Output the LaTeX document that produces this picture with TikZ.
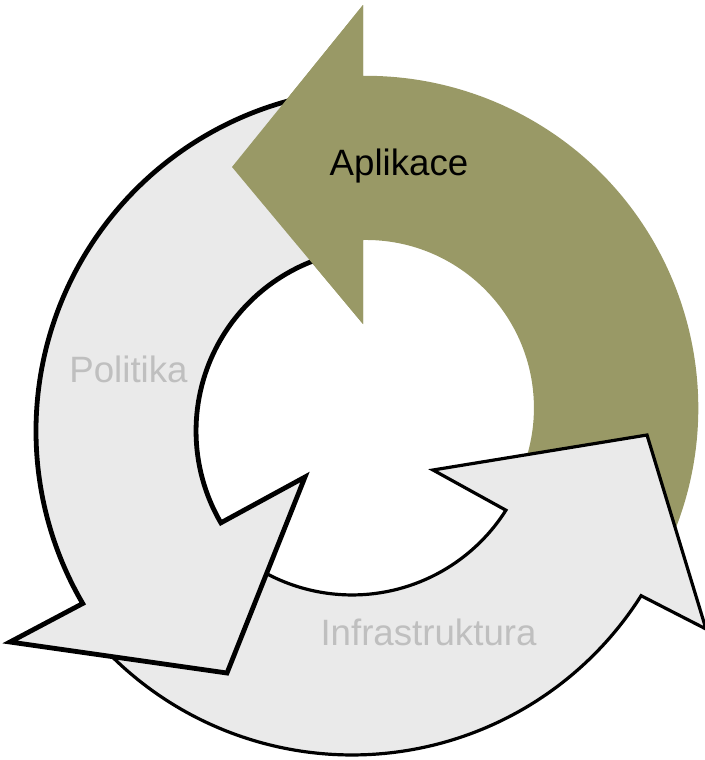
\documentclass[tikz,border=0pt]{standalone}
\usepackage{fontspec}
\setmainfont{Liberation Sans}
\definecolor{aplikgreen}{RGB}{153,153,102}
\definecolor{ringgray}{RGB}{234,234,234}
\definecolor{labelgray}{RGB}{191,191,191}
\tikzset{every picture/.style={line width=0.75pt}}
\tikzset{
  greenarrow/.style={fill=aplikgreen, draw=none},
  grayarrow/.style={fill=ringgray, draw=black},
  cyclelabel/.style={anchor=base, inner sep=0.75pt, font=\fontsize{27.5}{33}\selectfont}
}

\begin{document}
\begin{tikzpicture}[x=0.75pt,y=0.75pt,yscale=-1,xscale=1]
%set diagram left start at 0, and has height of 760
\useasboundingbox (0,0) rectangle (705,760);

% Curved Arrow: Aplikace
\fill [greenarrow] (363,5) -- (232,167) -- (363,324) -- (363,240) arc [start angle=-91, end angle=25, radius=168] -- (667.1,548.4) arc [start angle=25, end angle=-90.5, radius=332.2] -- cycle ;
% Curved Arrow: Infrastruktura
\draw [grayarrow, line width=2.4pt] (101.9,646.2) arc [start angle=137, end angle=32.3, radius=342] -- (706,629) -- (647,435) -- (433,470) -- (505.9,510.2) arc [start angle=32.3, end angle=137, radius=182] -- cycle ;
% Curved Arrow: Politika
\draw [grayarrow, line width=3.6pt] (336.3,91.5) arc [start angle=263, end angle=149.7, radius=342] -- (10,642) -- (227,673) -- (305,477) -- (220.9,522.8) arc [start angle=149.7, end angle=263, radius=182] -- cycle ;
% Arrow head: Aplikace (over the tail of Politika)
\fill [greenarrow] (363,5) -- (232,167) -- (363,324) -- cycle ;

% Text Node
\draw (399,175) node [cyclelabel, text=black] (aplikace) {Aplikace};
% Text Node
\draw (128.5,382) node [cyclelabel, text=labelgray] (politika) {Politika};
% Text Node
\draw (428.5,645) node [cyclelabel, text=labelgray] (infra) {Infrastruktura};

\end{tikzpicture}
\end{document}
